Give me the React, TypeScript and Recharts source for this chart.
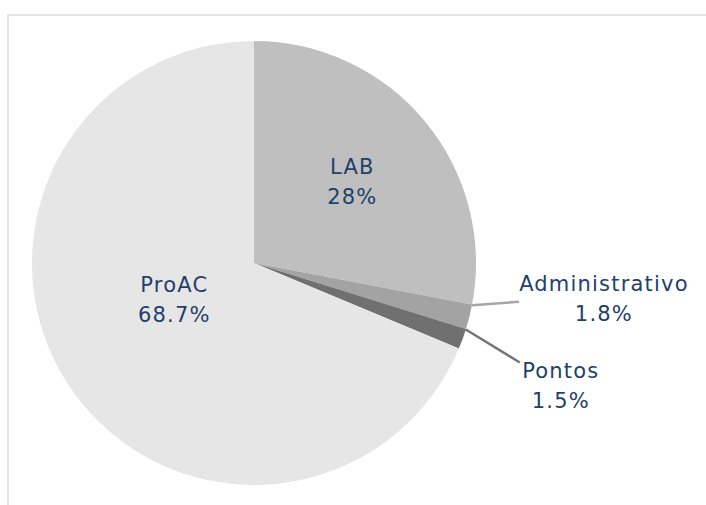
import { PieChart, Pie, Cell } from 'recharts';

const categories = ['LAB', 'Administrativo', 'Pontos', 'ProAC'];
const shares = [28, 1.8, 1.5, 68.7];
const shareLabels = ['28%', '1.8%', '1.5%', '68.7%'];

const SLICE_COLORS = ['#bfbfbf', '#a3a3a3', '#707070', '#e7e6e6'];
const LINE_COLORS = ['', '#a6a6a6', '#767676', ''];
const TEXT_COLOR = '#22406c';
const FONT = '"DejaVu Sans", sans-serif';

const chartData = categories.map((name, i) => ({
  name,
  value: shares[i],
  pct: shareLabels[i],
}));

// inside labels: radius factor + angle nudge, outside ones: leader end offset + text offset
const INSIDE: Record<string, { r: number; shift: number }> = {
  LAB: { r: 0.575, shift: 0 },
  ProAC: { r: 0.396, shift: -8.6 },
};
const OUTSIDE: Record<string, { lx: number; ly: number; tx: number; ty: number }> = {
  Administrativo: { lx: 47, ly: -3.6, tx: 85, ty: -18 },
  Pontos: { lx: 54, ly: 33, tx: 41, ty: 8.5 },
};

const RADIAN = Math.PI / 180;

const renderLabel = (props: any) => {
  const { cx, cy, midAngle, startAngle, endAngle, outerRadius, index, name } = props;
  const pct = shareLabels[index];
  const textProps = {
    fill: TEXT_COLOR,
    fontFamily: FONT,
    fontSize: 21,
    letterSpacing: 1.2,
    textAnchor: 'middle' as const,
    dominantBaseline: 'central' as const,
  };

  if (INSIDE[name]) {
    const { r, shift } = INSIDE[name];
    const a = (midAngle + shift) * RADIAN;
    const x = cx + outerRadius * r * Math.cos(a);
    const y = cy - outerRadius * r * Math.sin(a);
    return (
      <g key={name}>
        <text x={x} y={y - 15} {...textProps}>{name}</text>
        <text x={x} y={y + 15} {...textProps}>{pct}</text>
      </g>
    );
  }

  const o = OUTSIDE[name];
  // leader starts just inside the slice's leading edge
  const a = (startAngle + (endAngle - startAngle) * 0.03) * RADIAN;
  const sx = cx + outerRadius * Math.cos(a);
  const sy = cy - outerRadius * Math.sin(a);
  const ex = sx + o.lx;
  const ey = sy + o.ly;
  return (
    <g key={name}>
      <line x1={sx} y1={sy} x2={ex} y2={ey} stroke={LINE_COLORS[index]} strokeWidth={2.5} />
      <text x={ex + o.tx} y={ey + o.ty} {...textProps}>{name}</text>
      <text x={ex + o.tx} y={ey + o.ty + 30} {...textProps}>{pct}</text>
    </g>
  );
};

export default function App() {
  return (
    <div
      style={{
        position: 'absolute',
        left: 0,
        top: 0,
        width: 706,
        height: 505,
        overflow: 'hidden',
        background: '#fff',
      }}
    >
      <div
        style={{
          position: 'absolute',
          left: 7,
          top: 14,
          width: 760,
          height: 560,
          borderTop: '2px solid #e4e4e4',
          borderLeft: '2px solid #e4e4e4',
        }}
      />
      <div style={{ position: 'absolute', left: 0, top: 0 }}>
        <PieChart width={706} height={505} margin={{ top: 0, right: 0, bottom: 0, left: 0 }}>
          <Pie
            data={chartData}
            dataKey="value"
            nameKey="name"
            cx={254}
            cy={263}
            outerRadius={222}
            startAngle={90}
            endAngle={-270}
            stroke="none"
            label={renderLabel}
            labelLine={false}
            isAnimationActive={false}
          >
            {chartData.map((d, i) => (
              <Cell key={d.name} fill={SLICE_COLORS[i]} />
            ))}
          </Pie>
        </PieChart>
      </div>
    </div>
  );
}
